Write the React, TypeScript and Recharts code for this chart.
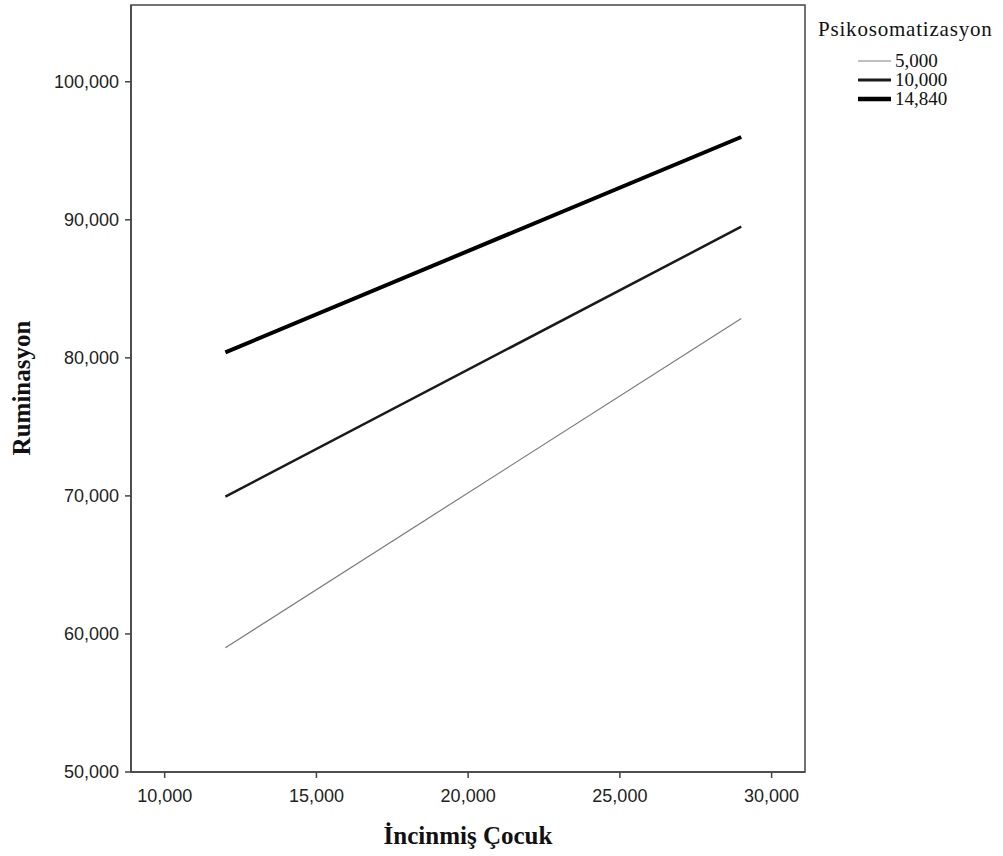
import React from "react";
import { LineChart, Line, XAxis, YAxis, ReferenceArea, Label } from "recharts";

const xValues = [12, 29];
const low = [59.0, 82.85];
const mid = [69.95, 89.5];
const high = [80.4, 96.0];
const seriesNames = ["5,000", "10,000", "14,840"];
const legendTitle = "Psikosomatizasyon";
const xTicks = [10, 15, 20, 25, 30];
const yTicks = [50, 60, 70, 80, 90, 100];
const xDomain = [8.89, 31.1];
const yDomain = [50, 105.56];

const data = xValues.map((x, i) => ({ x, low: low[i], mid: mid[i], high: high[i] }));

const seriesStyle = [
  { key: "low", color: "#7a7a7a", width: 1.2 },
  { key: "mid", color: "#1a1a1a", width: 2.5 },
  { key: "high", color: "#000000", width: 4 },
];

const fmt = (v: number) => v.toFixed(3).replace(".", ",");

const LegendBox = () => (
  <svg width={203} height={120} style={{ position: "absolute", left: 800, top: 0, display: "block" }}>
    <text x={18} y={36} fontFamily="Liberation Serif" fontSize={21} fill="#111" letterSpacing={0.8}>
      {legendTitle}
    </text>
    {seriesNames.map((n, i) => {
      const cy = 61 + i * 19;
      const s = seriesStyle[i];
      return (
        <g key={n}>
          <line x1={58} x2={91} y1={cy} y2={cy} stroke={i === 0 ? "#aaaaaa" : s.color} strokeWidth={s.width + 0.3} />
          <text x={95} y={cy + 6} fontFamily="Liberation Serif" fontSize={19} fill="#111">
            {n}
          </text>
        </g>
      );
    })}
  </svg>
);

export default function App() {
  return (
    <div style={{ position: "absolute", left: 0, top: 0, width: 1003, height: 856, background: "#fff" }}>
      <LineChart
        width={1003}
        height={856}
        data={data}
        margin={{ top: 5, right: 198, bottom: 0, left: 0 }}
      >
        <XAxis
          dataKey="x"
          type="number"
          domain={xDomain}
          ticks={xTicks}
          allowDataOverflow
          height={84}
          tickFormatter={fmt}
          tickSize={6}
          tickMargin={11}
          stroke="#444"
          strokeWidth={1.5}
          tick={{ fontFamily: "Liberation Sans", fontSize: 18, fill: "#222" }}
        >
          <Label
            content={() => (
              <text x={468} y={844} textAnchor="middle" fontFamily="Liberation Serif" fontWeight="bold" fontSize={25} fill="#111">
                İncinmiş Çocuk
              </text>
            )}
          />
        </XAxis>
        <YAxis
          type="number"
          domain={yDomain}
          ticks={yTicks}
          allowDataOverflow
          width={131}
          tickFormatter={fmt}
          tickSize={6}
          tickMargin={6}
          stroke="#444"
          strokeWidth={1.5}
          tick={{ fontFamily: "Liberation Sans", fontSize: 18, fill: "#222" }}
        >
          <Label
            content={() => (
              <text
                x={30}
                y={388}
                textAnchor="middle"
                transform="rotate(-90 30 388)"
                fontFamily="Liberation Serif"
                fontWeight="bold"
                fontSize={25}
                fill="#111"
              >
                Ruminasyon
              </text>
            )}
          />
        </YAxis>
        <ReferenceArea
          x1={xDomain[0]}
          x2={xDomain[1]}
          y1={yDomain[0]}
          y2={yDomain[1]}
          fill="none"
          fillOpacity={0}
          stroke="#444"
          strokeWidth={1.5}
        />
        {seriesStyle.map((s, i) => (
          <Line
            key={s.key}
            dataKey={s.key}
            name={seriesNames[i]}
            stroke={s.color}
            strokeWidth={s.width}
            dot={false}
            activeDot={false}
            isAnimationActive={false}
          />
        ))}
      </LineChart>
      <LegendBox />
    </div>
  );
}
